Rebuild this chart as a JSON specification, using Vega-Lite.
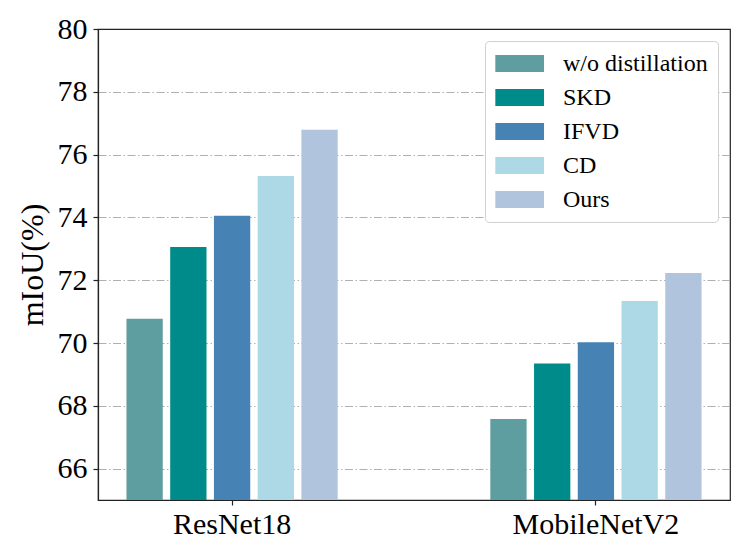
{
  "$schema": "https://vega.github.io/schema/vega-lite/v6.json",
  "width": 632,
  "height": 471,
  "autosize": "none",
  "padding": {"left": 98, "top": 29, "right": 17, "bottom": 60},
  "background": "white",
  "data": {
    "values": [
      {"backbone": "ResNet18", "method": "w/o distillation", "miou": 70.77},
      {"backbone": "ResNet18", "method": "SKD", "miou": 73.06},
      {"backbone": "ResNet18", "method": "IFVD", "miou": 74.05},
      {"backbone": "ResNet18", "method": "CD", "miou": 75.32},
      {"backbone": "ResNet18", "method": "Ours", "miou": 76.79},
      {"backbone": "MobileNetV2", "method": "w/o distillation", "miou": 67.58},
      {"backbone": "MobileNetV2", "method": "SKD", "miou": 69.35},
      {"backbone": "MobileNetV2", "method": "IFVD", "miou": 70.02},
      {"backbone": "MobileNetV2", "method": "CD", "miou": 71.34},
      {"backbone": "MobileNetV2", "method": "Ours", "miou": 72.23}
    ]
  },
  "mark": {"type": "bar", "clip": true},
  "encoding": {
    "x": {
      "field": "backbone",
      "type": "nominal",
      "sort": ["ResNet18", "MobileNetV2"],
      "scale": {"paddingInner": 0.399, "paddingOuter": 0.068},
      "axis": {
        "title": null,
        "labelAngle": 0,
        "grid": false,
        "labelPadding": 4
      }
    },
    "xOffset": {
      "field": "method",
      "sort": ["w/o distillation", "SKD", "IFVD", "CD", "Ours"],
      "scale": {"paddingInner": 0.17, "paddingOuter": 0.085}
    },
    "y": {
      "field": "miou",
      "type": "quantitative",
      "scale": {"domain": [65, 80], "zero": false, "nice": false},
      "axis": {
        "title": "mIoU(%)",
        "values": [66, 68, 70, 72, 74, 76, 78, 80],
        "titleX": -56,
        "titleBaseline": "alphabetic",
        "titleFontSize": 32,
        "labelPadding": 6,
        "gridOpacity": {"condition": {"test": "datum.value == 80", "value": 0}, "value": 1}
      }
    },
    "y2": {"datum": 65},
    "color": {
      "field": "method",
      "type": "nominal",
      "scale": {
        "domain": ["w/o distillation", "SKD", "IFVD", "CD", "Ours"],
        "range": ["#5F9EA0", "#008B8B", "#4682B4", "#ADD8E6", "#B0C4DE"]
      },
      "legend": {
        "title": null,
        "orient": "top-right",
        "offset": 12,
        "symbolType": "M-1,-0.7H3V0.7H-1Z",
        "symbolSize": 593,
        "symbolStrokeWidth": 0,
        "labelFontSize": 24,
        "labelOffset": 43,
        "rowPadding": 9,
        "padding": 10,
        "strokeColor": "#d0d0d0",
        "fillColor": "white",
        "cornerRadius": 4
      }
    }
  },
  "config": {
    "font": "Times New Roman, Liberation Serif, serif",
    "view": {"stroke": "#222", "strokeWidth": 1.2},
    "legend": {"labelFont": "Times New Roman, Liberation Serif, serif", "labelColor": "black"},
    "axis": {
      "labelFont": "Times New Roman, Liberation Serif, serif",
      "titleFont": "Times New Roman, Liberation Serif, serif",
      "labelFontSize": 30,
      "titleFontWeight": "normal",
      "labelColor": "black",
      "titleColor": "black",
      "domainColor": "#222",
      "domainWidth": 1.2,
      "tickColor": "#222",
      "tickSize": 5,
      "tickWidth": 1.2,
      "gridColor": "#b0b0b0",
      "gridDash": [8, 2.5, 1.5, 2.5],
      "gridWidth": 1
    }
  }
}
